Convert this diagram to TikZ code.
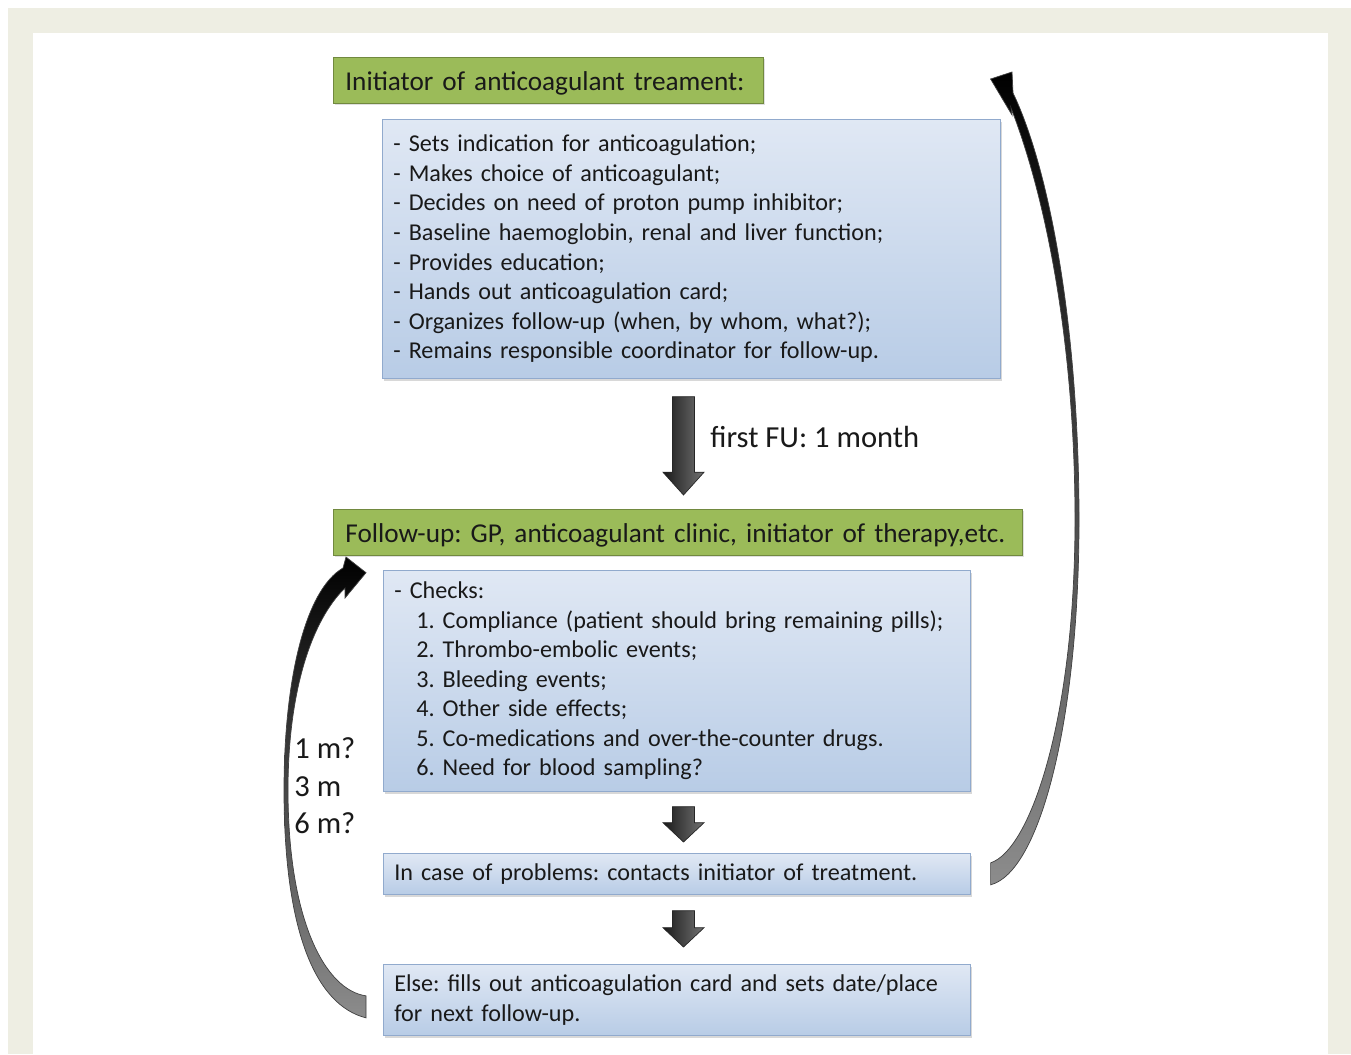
\documentclass[tikz,border=0pt]{standalone}
\usepackage{fontspec}
\setmainfont{Carlito}
\usepackage{tikz}
\usetikzlibrary{calc,shadows}
\frenchspacing

\definecolor{pagebg}{RGB}{238,238,227}
\definecolor{titlegreen}{RGB}{155,187,89}
\definecolor{titleedge}{RGB}{113,137,63}
\definecolor{boxtop}{RGB}{224,232,244}
\definecolor{boxbottom}{RGB}{184,204,230}
\definecolor{boxedge}{RGB}{145,170,205}
\definecolor{textcol}{RGB}{25,25,25}

% thick down arrow between two coordinates, #3 = head length
\newcommand{\blockarrow}[3]{%
  \path[blockfill] let \p1=(#1), \p2=(#2) in
    (\x1-6.3pt,\y1) -- (\x1+6.3pt,\y1) -- (\x1+6.3pt,\y2+#3) -- (\x1+11.7pt,\y2+#3)
    -- (\x1,\y2) -- (\x1-11.7pt,\y2+#3) -- (\x1-6.3pt,\y2+#3) -- cycle;}

\begin{document}
\begin{tikzpicture}[x=0.02cm, y=-0.02cm,
    titlebox/.style={draw=titleedge, fill=titlegreen, anchor=north west, align=left,
      inner xsep=0.24cm, inner ysep=0pt, minimum height=0.92cm, text=textcol,
      text height=15pt, text depth=3pt, font=\fontsize{15.5}{18}\selectfont,
      drop shadow={opacity=0.25, shadow xshift=1pt, shadow yshift=-1pt}},
    listbox/.style={draw=boxedge, top color=boxtop, bottom color=boxbottom,
      anchor=north west, align=left, inner xsep=0.22cm, inner ysep=0pt, text=textcol,
      font=\fontsize{13.75}{16.8}\selectfont,
      drop shadow={opacity=0.3, shadow xshift=1pt, shadow yshift=-1.5pt}},
    blockfill/.style={draw=black!85, left color=black!90, right color=black!55},
    ribbon/.style={draw=black!75, line width=0.4pt, top color=black, bottom color=black!45}]
    \useasboundingbox (0,0) rectangle (1351,1054);
    \fill[pagebg] (8,8) rectangle (1351,1054);
    \fill[white] (33,33) rectangle (1328,1054);

    \node[titlebox, text width=8.12cm] (init) at (333,57) {Initiator of anticoagulant treament:};
    \node[listbox, text width=11.92cm, minimum height=5.18cm] (initlist) at (382,119) {%
      - Sets indication for anticoagulation;\\
      - Makes choice of anticoagulant;\\
      - Decides on need of proton pump inhibitor;\\
      - Baseline haemoglobin, renal and liver function;\\
      - Provides education;\\
      - Hands out anticoagulation card;\\
      - Organizes follow-up (when, by whom, what?);\\
      - Remains responsible coordinator for follow-up.};

    \node[titlebox, text width=13.3cm] (follow) at (333,509) {Follow-up: GP, anticoagulant clinic, initiator of therapy,etc.};
    \node[listbox, text width=11.3cm, minimum height=4.42cm] (checks) at (383,570) {%
      - Checks:\\
      \hspace*{0.44cm}1. Compliance (patient should bring remaining pills);\\
      \hspace*{0.44cm}2. Thrombo-embolic events;\\
      \hspace*{0.44cm}3. Bleeding events;\\
      \hspace*{0.44cm}4. Other side effects;\\
      \hspace*{0.44cm}5. Co-medications and over-the-counter drugs.\\
      \hspace*{0.44cm}6. Need for blood sampling?};
    \node[listbox, text width=11.3cm, minimum height=0.82cm] (problem) at (383,853) {In case of problems: contacts initiator of treatment.};
    \node[listbox, text width=11.3cm, minimum height=1.42cm] (else) at (383,964) {%
      Else: fills out anticoagulation card and sets date/place\\
      for next follow-up.};

    \node[anchor=west, inner sep=0pt, text=textcol, font=\fontsize{17.4}{21}\selectfont] (firstfu) at (710,437) {first FU: 1 month};
    \node[anchor=west, inner sep=0pt, align=left, text=textcol, font=\fontsize{17.4}{21.3}\selectfont] (interval) at (294,786) {1 m?\\3 m\\6 m?};

    % straight arrows
    \coordinate (axis) at (683.5,0);
    \coordinate (a1) at ($(initlist.south -| axis)+(0,18)$);
    \coordinate (b1) at ($(follow.north -| axis)+(0,-14)$);
    \coordinate (a2) at ($(checks.south -| axis)+(0,15)$);
    \coordinate (b2) at ($(problem.north -| axis)+(0,-11)$);
    \coordinate (a3) at ($(problem.south -| axis)+(0,16)$);
    \coordinate (b3) at ($(else.north -| axis)+(0,-17)$);
    \blockarrow{a1}{b1}{13pt}
    \blockarrow{a2}{b2}{11pt}
    \blockarrow{a3}{b3}{11pt}

    % curved arrows back up
    \coordinate (lt) at ($(else.west)+(-17,7)$);
    \coordinate (lh) at ($(follow.south west)+(33,17)$);
    \path[ribbon] ($(lt)+(0,-11)$) .. controls (325,990) and (288,920) .. (288,790)
      .. controls (288,690) and (312,620) .. (345,588) -- (345,598) -- (lh) -- (346,557) -- (343,568)
      .. controls (305,590) and (284,680) .. (284,790)
      .. controls (284,930) and (315,1005) .. ($(lt)+(0,11)$) -- cycle;

    \coordinate (rt) at ($(problem.east)+(20,0)$);
    \coordinate (rh) at ($(initlist.north east)+(-10,-40)$);
    \path[ribbon] (rh) -- (1012,72) -- (1013,93) .. controls (1050,170) and (1079,330) .. (1079,520)
      .. controls (1079,720) and (1040,872) .. ($(rt)+(0,11)$) -- ($(rt)+(0,-11)$)
      .. controls (1030,850) and (1075,720) .. (1075,520)
      .. controls (1075,340) and (1045,195) .. (1011,108) -- (1012,115) -- cycle;
\end{tikzpicture}
\end{document}
